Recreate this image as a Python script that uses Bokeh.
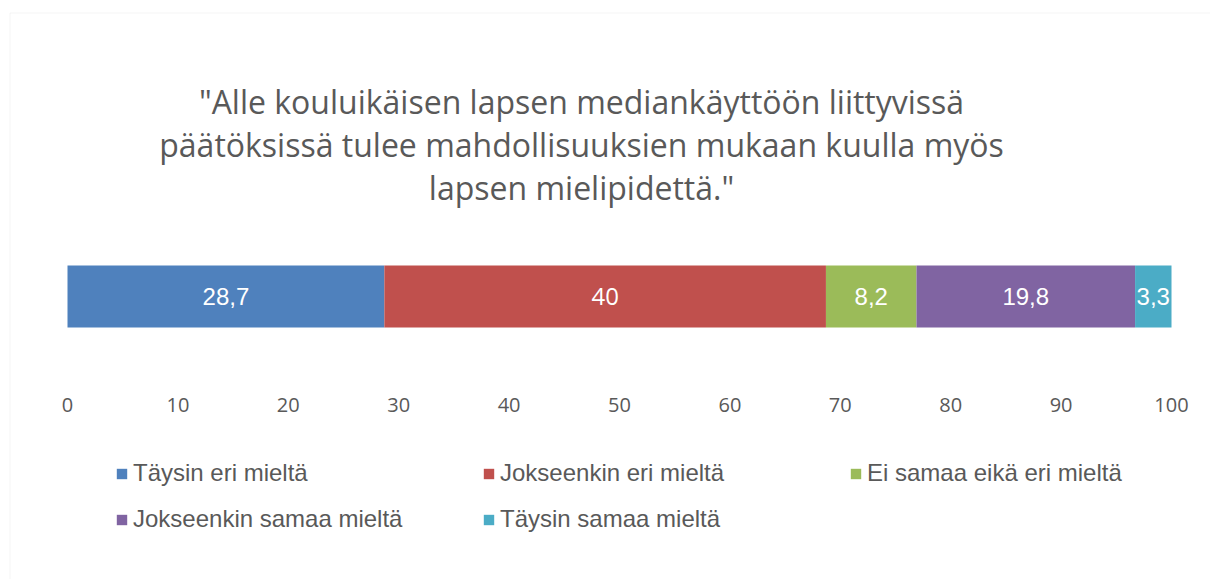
from bokeh.plotting import figure
from bokeh.models import ColumnDataSource, Range1d, FixedTicker, Legend, LegendItem, BoxAnnotation
from bokeh.core.properties import value
from bokeh.embed import file_html
from bokeh.resources import INLINE

# ---- data ----
categories = ["Täysin eri mieltä", "Jokseenkin eri mieltä", "Ei samaa eikä eri mieltä",
              "Jokseenkin samaa mieltä", "Täysin samaa mieltä"]
values = [28.7, 40, 8.2, 19.8, 3.3]
value_labels = ["28,7", "40", "8,2", "19,8", "3,3"]
x_ticks = [0, 10, 20, 30, 40, 50, 60, 70, 80, 90, 100]
title_lines = ['"Alle kouluikäisen lapsen mediankäyttöön liittyvissä',
               'päätöksissä tulee mahdollisuuksien mukaan kuulla myös',
               'lapsen mielipidettä."']

# ---- styles ----
colors = ["#4F81BD", "#C0504D", "#9BBB59", "#8064A2", "#4BACC6"]
label_fonts = ["Liberation Sans", "Open Sans", "Liberation Sans", "Liberation Sans", "Liberation Sans"]
text_gray = "#595959"

starts, ends = [], []
acc = 0.0
for v in values:
    starts.append(acc)
    acc += v
    ends.append(acc)
mids = [(a + b) / 2 for a, b in zip(starts, ends)]

src = ColumnDataSource(dict(cat=categories, left=starts, right=ends, y=[0] * len(values),
                            color=colors, mid=mids, lab=value_labels, font=label_fonts))

# frame spans the whole canvas; 0..100 maps to px 67..1171, bar (height 1) = 62 px centred at px 296
W, H = 1210, 579
px_per_x = 11.04
px_per_y = 62.0
bar_center_px = 296
x0_px = 67
p = figure(width=W, height=H,
           x_range=Range1d(-x0_px / px_per_x, (W - x0_px) / px_per_x),
           y_range=Range1d(-(H - bar_center_px) / px_per_y, bar_center_px / px_per_y),
           output_backend="svg", toolbar_location=None, y_axis_location=None,
           min_border=0, min_border_left=0, min_border_right=0,
           min_border_top=0, min_border_bottom=0)
p.outline_line_color = None
p.xgrid.visible = False
p.ygrid.visible = False

r = p.hbar(y="y", left="left", right="right", height=1, fill_color="color", line_color=None, source=src)

p.text(x="mid", y="y", text="lab", source=src, text_align="center", text_baseline="middle",
       text_color="white", text_font="font", text_font_size="24px")

# title lines
line_step = 43 / px_per_y
first_line_y = (bar_center_px - 101) / px_per_y
tsrc = ColumnDataSource(dict(t=title_lines, x=[46.56] * 3,
                             y=[first_line_y - i * line_step for i in range(len(title_lines))]))
p.text(x="x", y="y", text="t", source=tsrc, text_align="center", text_baseline="alphabetic",
       text_color=text_gray, text_font=value("Open Sans"), text_font_size="32px")

ax = p.xaxis[0]
ax.fixed_location = -1.565
ax.ticker = FixedTicker(ticks=x_ticks)
ax.axis_line_color = None
ax.major_tick_line_color = None
ax.minor_tick_line_color = None
ax.major_tick_out = 0
ax.minor_tick_out = 0
ax.major_label_text_font = "Open Sans"
ax.major_label_text_font_size = "20px"
ax.major_label_text_color = text_gray
ax.major_label_standoff = 4

items = [LegendItem(label=c, renderers=[r], index=i) for i, c in enumerate(categories)]
legend = Legend(items=items, ncols=3, orientation="horizontal", location=(115, 46),
                glyph_width=13, glyph_height=13, label_standoff=5, label_width=331,
                spacing=18, padding=0, margin=0, border_line_color=None,
                background_fill_alpha=0, label_text_font="Liberation Sans",
                label_text_font_size="24px", label_text_color=text_gray)
p.add_layout(legend, "center")

frame_box = BoxAnnotation(left=9.5, right=1500, top=12.5, bottom=900,
                          left_units="canvas", right_units="canvas",
                          top_units="canvas", bottom_units="canvas",
                          fill_alpha=0, line_color="#D9D9D9", line_width=1)
p.add_layout(frame_box)

open("out.html", "w").write(file_html(p, INLINE))
